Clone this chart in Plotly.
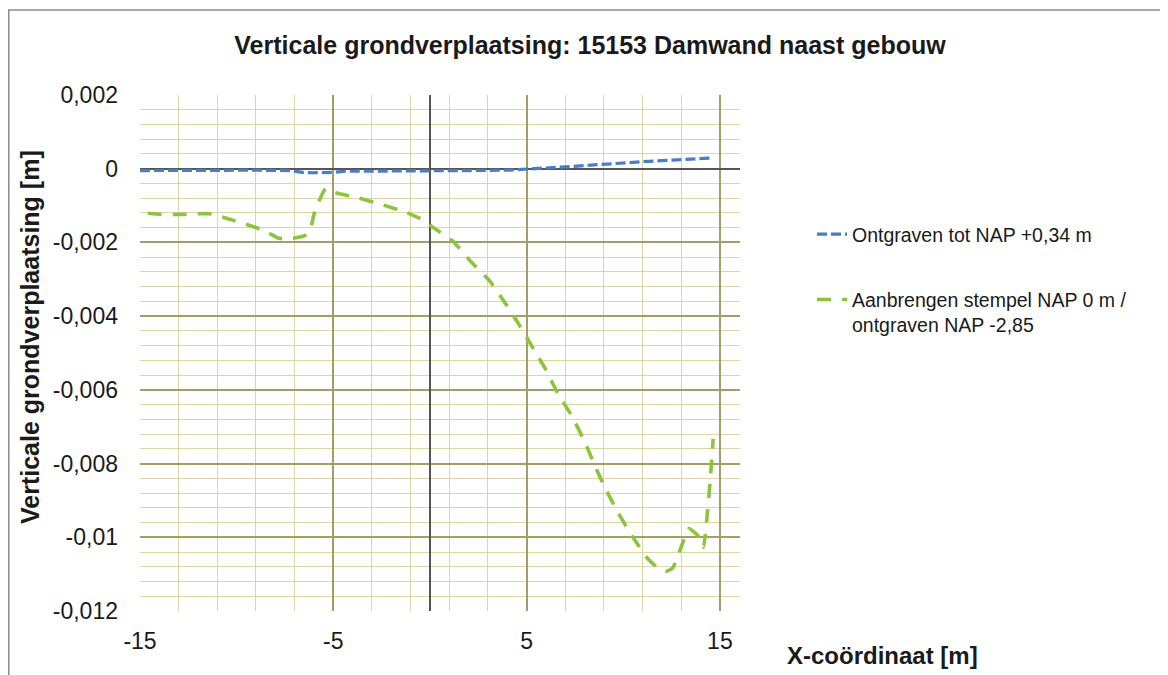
import plotly.graph_objects as go

# ---- data ----
blue_name = "Ontgraven tot NAP +0,34 m"
blue_x = [-15, -13, -11, -9, -7.2, -6.6, -6, -5, -4.5, -3, -1, 0, 2, 4, 5, 6, 7, 8, 9, 10, 11, 12, 13, 14, 14.6]
blue_y = [-0.00005, -0.00004, -0.00004, -0.00004, -0.00005, -0.0001, -0.00011, -0.0001, -0.00007, -0.00007,
          -0.00006, -0.00005, -0.00005, -0.00004, 0.0, 0.00002, 0.00005, 0.00009, 0.00012, 0.00016,
          0.00019, 0.00022, 0.00025, 0.00028, 0.00029]

green_name = "Aanbrengen stempel NAP 0 m /<br>ontgraven NAP -2,85"
green_x = [-14.6, -13.9, -12.8, -11.4, -10.1, -8.7, -7.8, -7.1, -6.45, -6.2, -6.0, -5.75, -5.4, -4.9, -3.8,
           -2.5, -1.2, -0.2, 0.1, 1.2, 2.1, 3.1, 3.9, 4.6, 5.3, 6.0, 6.6, 7.35, 8.0, 8.55, 9.1, 9.75, 10.5,
           11.25, 11.7, 12.2, 12.55, 12.95, 13.4, 13.85, 14.15, 14.35, 14.5, 14.65]
green_y = [-0.00121, -0.00124, -0.00124, -0.00122, -0.00141, -0.00165, -0.00189, -0.00189, -0.00181, -0.00168,
           -0.00124, -0.00089, -0.00054, -0.00065, -0.00078, -0.00097, -0.00119, -0.00143, -0.00157, -0.00197,
           -0.00251, -0.00305, -0.00365, -0.00422, -0.00484, -0.00546, -0.00608, -0.00672, -0.0074, -0.00808,
           -0.0087, -0.00935, -0.0100, -0.01057, -0.01079, -0.01092, -0.01084, -0.01033, -0.00976, -0.00995,
           -0.01027, -0.00935, -0.00846, -0.00733]

x_tickvals = [-15, -5, 5, 15]
x_ticktext = ["-15", "-5", "5", "15"]
y_tickvals = [-0.012, -0.010, -0.008, -0.006, -0.004, -0.002, 0.0, 0.002]
y_ticktext = ["-0,012", "-0,01", "-0,008", "-0,006", "-0,004", "-0,002", "0", "0,002"]

title_text = "<b>Verticale grondverplaatsing: 15153 Damwand naast gebouw</b>"
x_title = "<b>X-coördinaat [m]</b>"
y_title = "<b>Verticale grondverplaatsing [m]</b>"

FONT = "Liberation Sans, Arial, sans-serif"
MAJOR = "#a29e6a"
MINOR = "#ddd5a6"
TXT = "#1a1a1a"

fig = go.Figure()
fig.add_trace(go.Scatter(x=blue_x, y=blue_y, mode="lines", name=blue_name, legendgroup="a",
                         line=dict(color="#4a7dc9", width=3.2, dash="10px,4px")))
fig.add_trace(go.Scatter(x=green_x, y=green_y, mode="lines", name=green_name, legendgroup="b",
                         line=dict(color="#8cc43c", width=3.6, dash="14px,11px", shape="spline", smoothing=0.4)))

# page body has an 8px margin, so target pixel positions are shifted by -8
OFF = 8
W, H = 1168 - OFF, 675 - OFF
L, T = 140 - OFF, 95 - OFF
R = W - (740 - OFF)
B = H - (611 - OFF)
pw, ph = W - L - R, H - T - B

def px2paper(px, py):
    px -= OFF
    py -= OFF
    return (px - L) / pw, (H - B - py) / ph

x0, y0 = px2paper(8.8, 676)
x1, y1 = px2paper(1165, 10)
fig.add_shape(type="rect", xref="paper", yref="paper", x0=x0, y0=y0, x1=x1, y1=y1,
              line=dict(color="#8a8a8a", width=1.5), fillcolor="rgba(0,0,0,0)", layer="below")

ax, ay = px2paper(785, 655)
fig.add_annotation(text=x_title, xref="paper", yref="paper", x=ax, y=ay, xanchor="left", yanchor="middle",
                   showarrow=False, font=dict(family=FONT, size=24, color=TXT))
bx, by = px2paper(30, 337)
fig.add_annotation(text=y_title, xref="paper", yref="paper", x=bx, y=by, xanchor="center", yanchor="middle",
                   textangle=-90, showarrow=False, font=dict(family=FONT, size=25, color=TXT))

lx, ly = px2paper(812, 215)

fig.update_layout(
    width=W, height=H,
    margin=dict(l=L, r=R, t=T, b=B),
    paper_bgcolor="white", plot_bgcolor="white",
    font=dict(family=FONT, color=TXT),
    title=dict(text=title_text, x=(590 - OFF) / W, y=1 - (45 - OFF) / H, xanchor="center", yanchor="middle",
               font=dict(family=FONT, size=25, color=TXT)),
    legend=dict(x=lx, y=ly, xanchor="left", yanchor="top", font=dict(family=FONT, size=19.5, color=TXT),
                tracegroupgap=37, traceorder="grouped", valign="top", bgcolor="rgba(0,0,0,0)"),
    showlegend=True,
)
fig.update_xaxes(range=[-15, -15 + pw / 19.33], tickmode="array", tickvals=x_tickvals, ticktext=x_ticktext,
                 showgrid=True, gridcolor=MAJOR, gridwidth=1.5,
                 minor=dict(tickmode="linear", tick0=-15, dtick=2, showgrid=True, gridcolor=MINOR, gridwidth=1.3),
                 zeroline=True, zerolinecolor="#555555", zerolinewidth=1.6, showline=False,
                 ticks="", ticklabelstandoff=14, tickfont=dict(family=FONT, size=23, color=TXT))
fig.update_yaxes(range=[-0.012, 0.002], tickmode="array", tickvals=y_tickvals, ticktext=y_ticktext,
                 showgrid=True, gridcolor=MAJOR, gridwidth=1.5,
                 minor=dict(tickmode="linear", tick0=0, dtick=0.0004, showgrid=True, gridcolor=MINOR, gridwidth=1.3),
                 zeroline=True, zerolinecolor="#555555", zerolinewidth=1.6, showline=False,
                 ticks="", ticklabelstandoff=21, tickfont=dict(family=FONT, size=23, color=TXT))

fig.write_html("out.html")
